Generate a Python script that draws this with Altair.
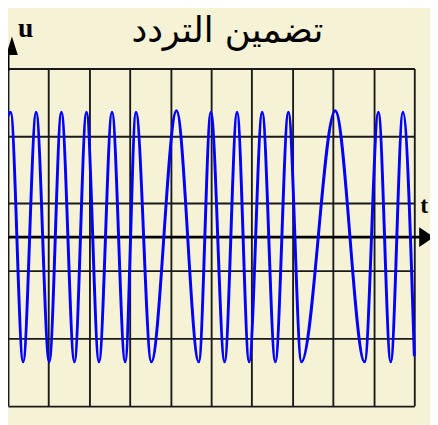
import altair as alt
import pandas as pd

# Extrema of the frequency-modulated signal
# (t in grid divisions, u in grid divisions)
wave_t = [0.0, 0.065, 0.372, 0.693, 1.014, 1.314, 1.635, 1.932, 2.239, 2.560,
          2.884, 3.150, 3.527, 4.147, 4.696, 4.993, 5.331, 5.638, 5.935, 6.256,
          6.580, 6.901, 7.222, 8.053, 8.778, 9.116, 9.420, 9.720, 10.0]
wave_u = [3.6, 3.7, -3.7, 3.7, -3.7, 3.7, -3.7, 3.7, -3.7, 3.7,
          -3.7, 3.7, -3.7, 3.75, -3.7, 3.7, -3.7, 3.7, -3.7, 3.7,
          -3.7, 3.7, -3.7, 3.75, -3.7, 3.7, -3.7, 3.7, -3.5]

grid_x = list(range(0, 11))
grid_y = list(range(-5, 6))

title_text = "تضمين التردد"
u_label = "u"
t_label = "t"

BG = "#f5f2d5"

wave_df = pd.DataFrame({"t": wave_t, "u": wave_u})

xscale = alt.Scale(domain=[0, 10], nice=False, zero=False)
yscale = alt.Scale(domain=[-5, 5], nice=False, zero=False)

xaxis = alt.Axis(values=grid_x, grid=True, labels=False, ticks=False,
                 domain=False, title=None, gridColor="#1a1a1a",
                 gridWidth=1.9, gridOpacity=1)
yaxis = alt.Axis(values=grid_y, grid=True, labels=False, ticks=False,
                 domain=False, title=None, gridColor="#1a1a1a",
                 gridWidth=1.9, gridOpacity=1)

wave = alt.Chart(wave_df).mark_line(
    interpolate="monotone", color="#0000ff", strokeWidth=3,
    strokeCap="round", strokeJoin="round"
).encode(
    x=alt.X("t:Q", scale=xscale, axis=xaxis),
    y=alt.Y("u:Q", scale=yscale, axis=yaxis),
)

one = pd.DataFrame({"k": [0]})

t_axis = alt.Chart(one).mark_rule(color="black", strokeWidth=3).encode(
    x=alt.value(0), x2=alt.value(422), y=alt.datum(0)
)
u_axis = alt.Chart(one).mark_rule(color="black", strokeWidth=3).encode(
    x=alt.value(0), y=alt.value(-16), y2=alt.value(2)
)

up_arrow = alt.Chart(one).mark_point(
    shape="M0,-1L-0.63,1L0.63,1Z", filled=True, size=361,
    color="black", opacity=1, strokeWidth=0
).encode(x=alt.value(4), y=alt.value(-23.2))

right_arrow = alt.Chart(one).mark_point(
    shape="M1,0L-1,-1.33L-1,1.33Z", filled=True, size=225,
    color="black", opacity=1, strokeWidth=0
).encode(x=alt.value(426.5), y=alt.value(171.8))

title = alt.Chart(pd.DataFrame({"label": [title_text]})).mark_text(
    font="DejaVu Sans", fontSize=36, align="center", baseline="middle",
    color="black"
).encode(x=alt.value(223.5), y=alt.value(-38), text="label:N")

u_txt = alt.Chart(pd.DataFrame({"label": [u_label]})).mark_text(
    font="Liberation Serif", fontSize=28, fontWeight="bold", align="center",
    baseline="alphabetic", color="black"
).encode(x=alt.value(18), y=alt.value(-32), text="label:N")

t_txt = alt.Chart(pd.DataFrame({"label": [t_label]})).mark_text(
    font="Liberation Serif", fontSize=24, fontWeight="bold", align="left",
    baseline="alphabetic", color="black"
).encode(x=alt.value(420), y=alt.value(147), text="label:N")

chart = alt.layer(
    t_axis, wave, u_axis, up_arrow, right_arrow, title, u_txt, t_txt
).properties(
    width=414, height=343.6,
    autosize=alt.AutoSizeParams(type="none"),
    padding={"left": 0, "top": 57.7, "right": 16, "bottom": 15.7},
    background=BG,
).configure_view(strokeWidth=0)

chart.save("out.html", embed_options={"renderer": "svg", "actions": False})
